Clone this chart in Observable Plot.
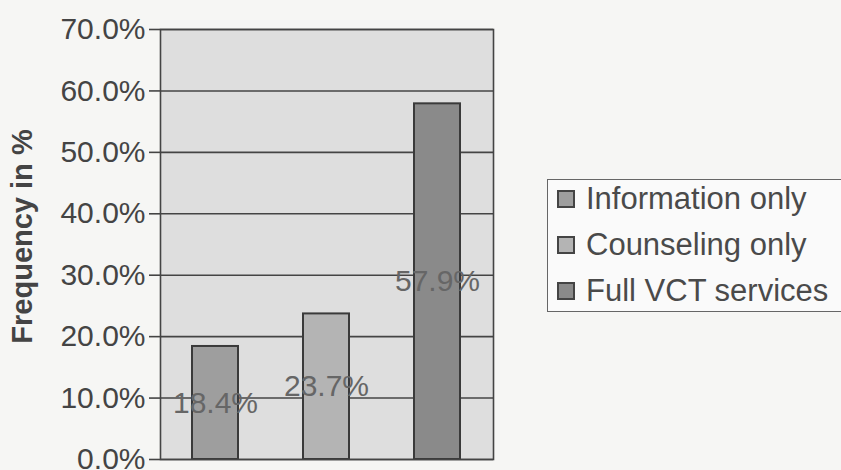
<!DOCTYPE html>
<html><head><meta charset="utf-8">
<script src="https://cdn.jsdelivr.net/npm/d3@7"></script>
<script src="https://cdn.jsdelivr.net/npm/@observablehq/plot@0.6"></script>
<style>
body{margin:0;background:#f6f6f4;}
#wrap{position:relative;width:841px;height:470px;overflow:hidden;font-family:"Liberation Sans",Arial,sans-serif;}
#legend{position:absolute;left:547px;top:179px;width:320px;height:133px;border:1.5px solid #666;background:#fafafa;box-sizing:border-box;}
.item{position:absolute;left:9px;display:flex;align-items:center;font-size:31px;color:#4a4a4a;white-space:nowrap;}
.sw{width:18px;height:18px;border:2px solid #444;margin-right:11px;box-sizing:border-box;}
</style>
</head><body>
<div id="wrap"><div id="chart"></div><div id="legend"></div></div>
<script>
const categories = ["Information only", "Counseling only", "Full VCT services"];
const values = [18.4, 23.7, 57.9];
const colors = ["#9e9e9e", "#b4b4b4", "#8a8a8a"];
const yTicks = [0, 10, 20, 30, 40, 50, 60, 70];
const yLabel = "Frequency in %";

const data = categories.map((c, i) => ({cat: c, value: values[i]}));
const font = '"Liberation Sans", Arial, sans-serif';

const chart = Plot.plot({
  width: 841, height: 470,
  marginLeft: 160, marginRight: 348, marginTop: 29, marginBottom: 11,
  x: {domain: categories, axis: null, paddingInner: 0.585, paddingOuter: 0.2925},
  y: {domain: [0, 70], axis: null},
  color: {domain: categories, range: colors},
  style: {fontFamily: font, background: "transparent", overflow: "visible"},
  marks: [
    Plot.frame({fill: "#dedede"}),
    Plot.gridY(yTicks, {stroke: "#444", strokeOpacity: 1, strokeWidth: 1.6}),
    Plot.barY(data, {x: "cat", y: "value", fill: "cat", stroke: "#3a3a3a", strokeWidth: 2}),
    Plot.text(data, {x: "cat", y: d => d.value / 2, text: d => d.value.toFixed(1) + "%", fontSize: 30, fill: "#666"}),
    Plot.frame({stroke: "#444", strokeWidth: 1.6}),
    Plot.axisY(yTicks, {tickFormat: d => d.toFixed(1) + "%", tickSize: 11, tickPadding: 4, fontSize: 30, fill: "#444", stroke: "#444", strokeWidth: 1.6, label: null}),
    Plot.text([yLabel], {frameAnchor: "left", textAnchor: "middle", rotate: -90, dx: -138, dy: -8, fontSize: 29, fontWeight: "bold", fill: "#444"})
  ]
});
document.getElementById("chart").appendChild(chart);

const legend = document.getElementById("legend");
categories.forEach((c, i) => {
  const it = document.createElement("div");
  it.className = "item";
  it.style.top = (1 + i * 46) + "px";
  const sw = document.createElement("div");
  sw.className = "sw";
  sw.style.background = colors[i];
  it.appendChild(sw);
  it.appendChild(document.createTextNode(c));
  legend.appendChild(it);
});
</script>
</body></html>
